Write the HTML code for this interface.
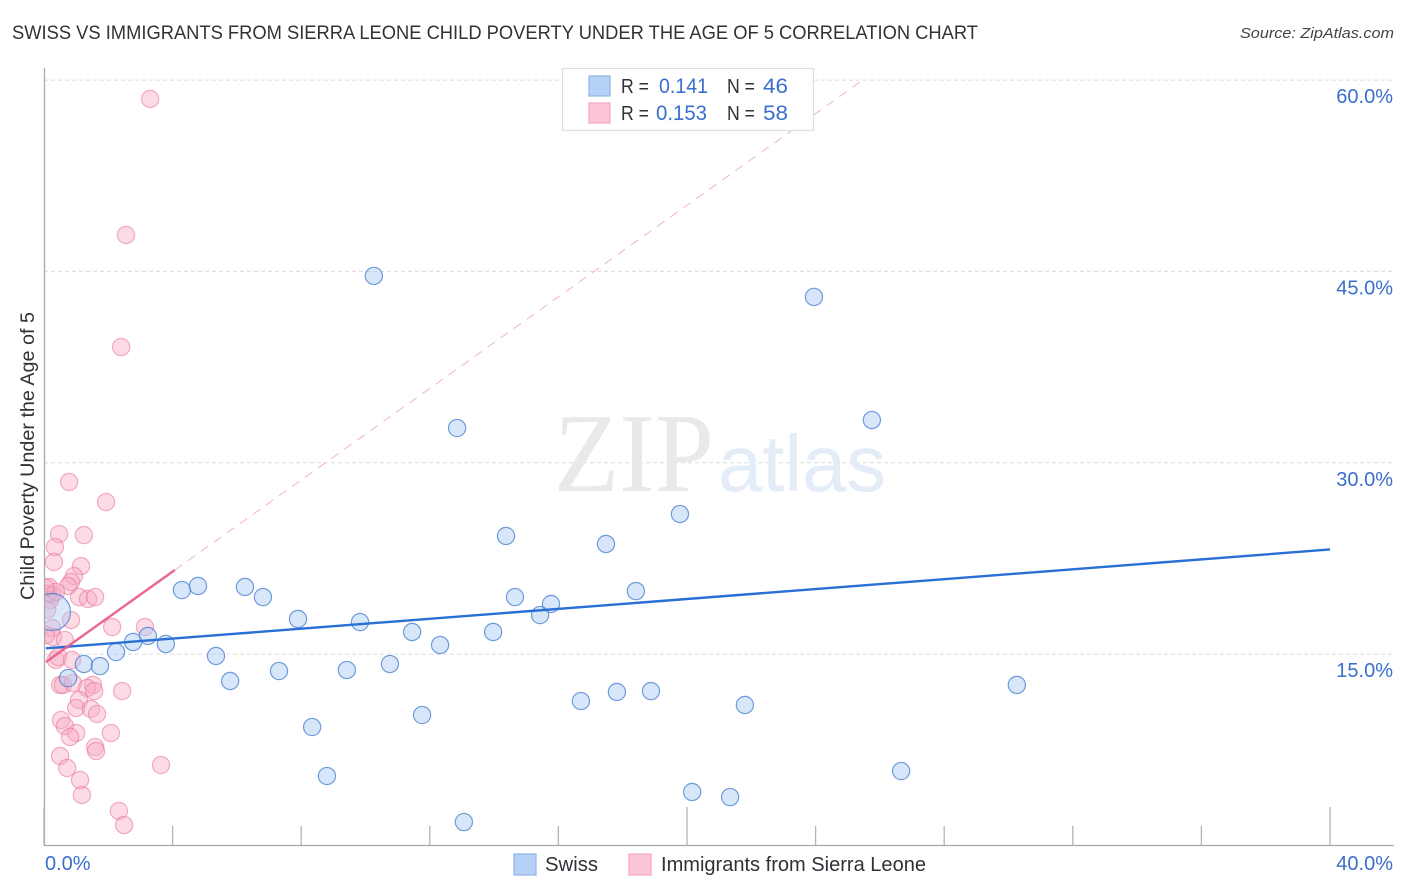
<!DOCTYPE html>
<html lang="en">
<head>
<meta charset="utf-8">
<title>Swiss vs Immigrants from Sierra Leone Child Poverty Correlation Chart</title>
<style>
html,body{margin:0;padding:0;background:#fff;width:1406px;height:892px;overflow:hidden}
svg{display:block;font-family:"Liberation Sans",sans-serif}
</style>
</head>
<body>
<svg id="chart" xmlns="http://www.w3.org/2000/svg" width="1406" height="892" viewBox="0 0 1406 892">
  <defs>
    <clipPath id="plot-clip"><rect x="44" y="68" width="1350" height="777"/></clipPath>
  </defs>
  <rect x="0" y="0" width="1406" height="892" fill="#fff"/>
  <text x="12" y="39" font-size="19" fill="#2f3237" textLength="966" lengthAdjust="spacingAndGlyphs">SWISS VS IMMIGRANTS FROM SIERRA LEONE CHILD POVERTY UNDER THE AGE OF 5 CORRELATION CHART</text>
  <text x="1394" y="38" font-size="15" font-style="italic" fill="#444" text-anchor="end" textLength="154" lengthAdjust="spacingAndGlyphs">Source: ZipAtlas.com</text>
  <g id="grid"></g>
  <g>
    <text x="554" y="491" font-family="'Liberation Serif',serif" font-size="112" fill="#e9e9e9" textLength="160" lengthAdjust="spacingAndGlyphs">ZIP</text>
    <text x="718" y="491" font-size="80" fill="#e4ecf8" textLength="168" lengthAdjust="spacingAndGlyphs">atlas</text>
  </g>
  <g id="points" clip-path="url(#plot-clip)"></g>
  <g id="trends"></g>
  <g id="axes"></g>
  <text transform="translate(34,456) rotate(-90)" font-size="19" fill="#2f3237" text-anchor="middle" textLength="288" lengthAdjust="spacingAndGlyphs">Child Poverty Under the Age of 5</text>

  <g>
    <rect x="562.5" y="68.5" width="251" height="62" fill="#fff" fill-opacity="0.93" stroke="#dedede" stroke-width="1.2"/>
    <rect x="589" y="76" width="21" height="20" fill="#b5d1f6" stroke="#8fb2e4" stroke-width="1.2"/>
    <rect x="589" y="103" width="21" height="20" fill="#fcc6d8" stroke="#f2a7c0" stroke-width="1.2"/>
    <g font-size="20">
      <text x="621" y="93" fill="#2f3237" textLength="28" lengthAdjust="spacingAndGlyphs">R =</text>
      <text x="659" y="93" fill="#3a6fcb" font-size="21" textLength="49" lengthAdjust="spacingAndGlyphs">0.141</text>
      <text x="727" y="93" fill="#2f3237" textLength="28" lengthAdjust="spacingAndGlyphs">N =</text>
      <text x="763" y="93" fill="#3a6fcb" font-size="21" textLength="25" lengthAdjust="spacingAndGlyphs">46</text>
      <text x="621" y="120" fill="#2f3237" textLength="28" lengthAdjust="spacingAndGlyphs">R =</text>
      <text x="656" y="120" fill="#3a6fcb" font-size="21" textLength="51" lengthAdjust="spacingAndGlyphs">0.153</text>
      <text x="727" y="120" fill="#2f3237" textLength="28" lengthAdjust="spacingAndGlyphs">N =</text>
      <text x="763" y="120" fill="#3a6fcb" font-size="21" textLength="25" lengthAdjust="spacingAndGlyphs">58</text>
    </g>
  </g>

  <g>
    <rect x="514" y="854" width="22" height="21" fill="#b5d1f6" stroke="#8fb2e4" stroke-width="1.2"/>
    <text x="545" y="871" font-size="20" fill="#2f3237" textLength="53" lengthAdjust="spacingAndGlyphs">Swiss</text>
    <rect x="629" y="854" width="22" height="21" fill="#fcc6d8" stroke="#f2a7c0" stroke-width="1.2"/>
    <text x="661" y="871" font-size="20" fill="#2f3237" textLength="265" lengthAdjust="spacingAndGlyphs">Immigrants from Sierra Leone</text>
  </g>
</svg>
<script>
const swissX = [10.26,23.95,25.75,12.85,19.78,14.37,17.48,4.29,4.79,6.25,6.81,7.9,9.83,14.65,15.77,15.43,18.41,11.45,13.97,12.32,3.23,2.77,2.24,3.79,5.35,5.79,7.31,9.42,10.76,1.24,1.74,0.75,17.82,18.88,16.7,21.8,11.76,8.34,8.8,20.16,21.34,26.66,13.06,30.26,19.53];
const swissY = [44.65,43.0,33.35,32.72,25.98,24.26,23.63,20.02,20.34,20.26,19.47,17.75,17.51,19.47,18.93,18.06,19.94,16.73,16.73,15.71,16.42,15.95,15.16,15.79,14.85,12.89,13.67,13.75,14.22,14.22,14.06,13.12,12.03,12.1,11.32,11.01,10.22,9.28,5.44,4.19,3.79,5.83,1.83,12.58,57.42];
const swissLargeX = [0.25];
const swissLargeY = [18.3];
const sierraX = [3.3,2.55,2.4,0.78,1.93,0.47,1.24,0.34,0.31,1.15,0.93,0.84,0.75,0.16,0.25,1.09,1.37,1.59,0.19,0.12,0.37,0.84,0.25,0.28,0.65,2.12,3.14,0.37,0.44,0.87,0.5,0.59,0.9,1.52,1.34,1.56,2.43,1.09,1.0,1.46,1.65,0.53,0.65,1.0,0.81,2.08,1.59,1.62,0.5,0.72,3.64,1.12,1.18,2.33,2.49,0.06,0.1,0.05];
const sierraY = [58.52,47.86,39.07,28.49,26.92,24.41,24.33,23.39,22.22,21.9,21.12,20.65,20.34,20.26,19.63,19.47,19.32,19.47,19.24,19.71,19.87,17.67,17.04,16.34,16.1,17.12,17.12,14.54,14.77,14.54,12.58,12.58,12.73,12.58,12.34,12.1,12.1,11.4,10.77,10.69,10.3,9.83,9.36,8.81,8.5,8.81,7.71,7.4,7.01,6.07,6.3,5.13,3.95,2.7,1.6,16.5,18.5,20.2];
const swissTrendX = [0.06,40];
const swissTrendY = [15.45,23.2];
const sierraTrendX = [0.06,4.07];
const sierraTrendY = [14.38,21.59];
const sierraExtensionX = [4.07,25.38];
const sierraExtensionY = [21.59,59.85];
const yTickValues = [15,30,45,60];
const yTickLabels = ['15.0%','30.0%','45.0%','60.0%'];
const xTickValues = [0,4,8,12,16,20,24,28,32,36,40];
const xMajorTicks = [0,20,40];
const xEndLabels = ['0.0%','40.0%'];

const NS = 'http://www.w3.org/2000/svg';
const xScale = function (v) { return 44 + v * 32.15; };
const yScale = function (v) { return 845.4 - v * 12.755; };

function make(parent, tag, props) {
  const el = document.createElementNS(NS, tag);
  Object.keys(props).forEach(function (k) { el.setAttribute(k, props[k]); });
  parent.appendChild(el);
  return el;
}

const grid = document.getElementById('grid');
const axes = document.getElementById('axes');
const points = document.getElementById('points');
const trends = document.getElementById('trends');

yTickValues.forEach(function (v, i) {
  const line = make(grid, 'line', {x1: 44, x2: 1394, y1: yScale(v), y2: yScale(v), stroke: '#dcdcdc', 'stroke-width': 1, 'stroke-dasharray': '4 3'});
  
  
  const label = make(axes, 'text', {x: 1393, y: yScale(v) + 23, 'text-anchor': 'end', 'font-size': 20, fill: '#3a6fcb'});
  label.textContent = yTickLabels[i];
  
  
});

const yAxis = make(axes, 'line', {x1: 44.5, x2: 44.5, y1: 68, y2: 846, stroke: '#a9a9a9', 'stroke-width': 1.3});


const xAxis = make(axes, 'line', {x1: 44, x2: 1394, y1: 845.5, y2: 845.5, stroke: '#a9a9a9', 'stroke-width': 1.3});



xTickValues.forEach(function (v) {
  const top = xMajorTicks.indexOf(v) >= 0 ? 807 : 826;
  const tick = make(axes, 'line', {x1: xScale(v), x2: xScale(v), y1: top, y2: 845, stroke: '#b4b4b4', 'stroke-width': 1.3});
  
  
});

const xLabelStart = make(axes, 'text', {x: 45, y: 870, 'font-size': 20, fill: '#3a6fcb'});
xLabelStart.textContent = xEndLabels[0];


const xLabelEnd = make(axes, 'text', {x: 1393, y: 870, 'font-size': 20, fill: '#3a6fcb', 'text-anchor': 'end'});
xLabelEnd.textContent = xEndLabels[1];



sierraX.forEach(function (v, i) {
  const c = make(points, 'circle', {cx: xScale(v), cy: yScale(sierraY[i]), r: 8.6, fill: '#f9a9c2', 'fill-opacity': 0.42, stroke: '#e9799f', 'stroke-opacity': 0.6, 'stroke-width': 1.2});
  
  
});

swissLargeX.forEach(function (v, i) {
  const c = make(points, 'circle', {cx: xScale(v), cy: yScale(swissLargeY[i]), r: 18.5, fill: '#a9c9f3', 'fill-opacity': 0.42, stroke: '#3f78cf', 'stroke-opacity': 0.72, 'stroke-width': 1.2});
  
  
});

swissX.forEach(function (v, i) {
  const c = make(points, 'circle', {cx: xScale(v), cy: yScale(swissY[i]), r: 8.6, fill: '#a9c9f3', 'fill-opacity': 0.46, stroke: '#3f78cf', 'stroke-opacity': 0.72, 'stroke-width': 1.2});
  
  
});

const ext = make(trends, 'line', {x1: xScale(sierraExtensionX[0]), y1: yScale(sierraExtensionY[0]), x2: xScale(sierraExtensionX[1]), y2: yScale(sierraExtensionY[1]), stroke: '#efb4c8', 'stroke-width': 1, 'stroke-dasharray': '9 7'});


const swissLine = make(trends, 'line', {x1: xScale(swissTrendX[0]), y1: yScale(swissTrendY[0]), x2: xScale(swissTrendX[1]), y2: yScale(swissTrendY[1]), stroke: '#2a6fd6', 'stroke-width': 2.4});


const sierraLine = make(trends, 'line', {x1: xScale(sierraTrendX[0]), y1: yScale(sierraTrendY[0]), x2: xScale(sierraTrendX[1]), y2: yScale(sierraTrendY[1]), stroke: '#ea6494', 'stroke-width': 2.4});


</script>
</body>
</html>
